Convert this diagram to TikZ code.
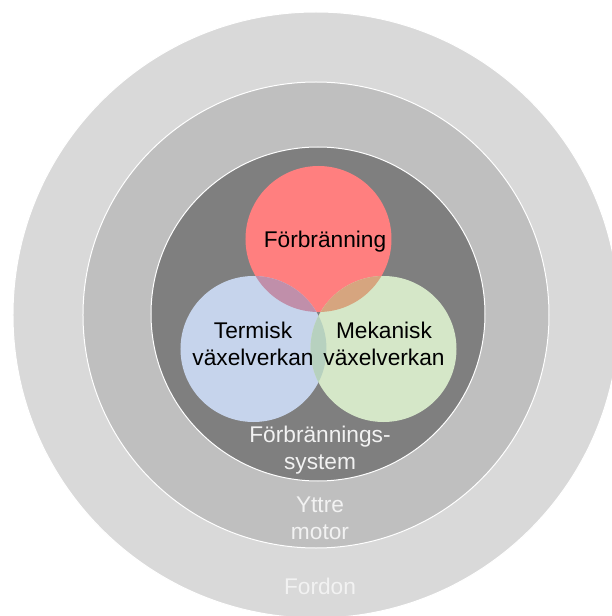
\documentclass[tikz,border=0pt]{standalone}
\usepackage{fontspec}
\setmainfont{Liberation Sans}
\definecolor{FordonGray}{RGB}{217,217,217}
\definecolor{MotorGray}{RGB}{191,191,191}
\definecolor{SystemGray}{RGB}{127,127,127}
\definecolor{CombRed}{RGB}{255,127,127}
\definecolor{ThermBlue}{RGB}{198,212,236}
\definecolor{MechGreen}{RGB}{213,231,200}
\definecolor{RedBlue}{RGB}{192,143,170}
\definecolor{RedGreen}{RGB}{214,165,127}
\definecolor{BlueGreen}{RGB}{183,209,191}
\definecolor{LabelWhite}{RGB}{242,242,242}

\begin{document}
\begin{tikzpicture}[x=1pt, y=1pt,
    every node/.style={inner sep=0pt, align=center, font=\fontsize{22.7}{27}\selectfont},
    ring/.style={draw=white, line width=1pt},
    outerlabel/.style={text=LabelWhite}]
          \useasboundingbox (-316,-301) rectangle (296,315);
          \fill[FordonGray, ring] (0,0) circle (303);
          \fill[MotorGray, ring] (0,0) circle (233);
          \fill[SystemGray, ring] (2,1) circle (167);
          \fill[CombRed] (2.5,76) circle (73);
          \fill[ThermBlue] (-62.5,-34) circle (73);
          \fill[MechGreen] (67.5,-34) circle (73);
          \begin{scope}
            \clip (2.5,76) circle (73);
            \fill[RedBlue] (-62.5,-34) circle (73);
            \fill[RedGreen] (67.5,-34) circle (73);
          \end{scope}
          \begin{scope}
            \clip (-62.5,-34) circle (73);
            \fill[BlueGreen] (67.5,-34) circle (73);
          \end{scope}
          \node[anchor=base] (comb) at (9,67) {Förbränning};
          \node (therm) at (-63,-29) {Termisk\\växelverkan};
          \node (mech) at (68,-29) {Mekanisk\\växelverkan};
          \node[outerlabel] (system) at (4,-135) {Förbrännings-\\system};
          \node[outerlabel] (motor) at (4,-203) {Yttre\\motor};
          \node[outerlabel, anchor=base] (fordon) at (4,-279) {Fordon};
        \end{tikzpicture}
\end{document}
